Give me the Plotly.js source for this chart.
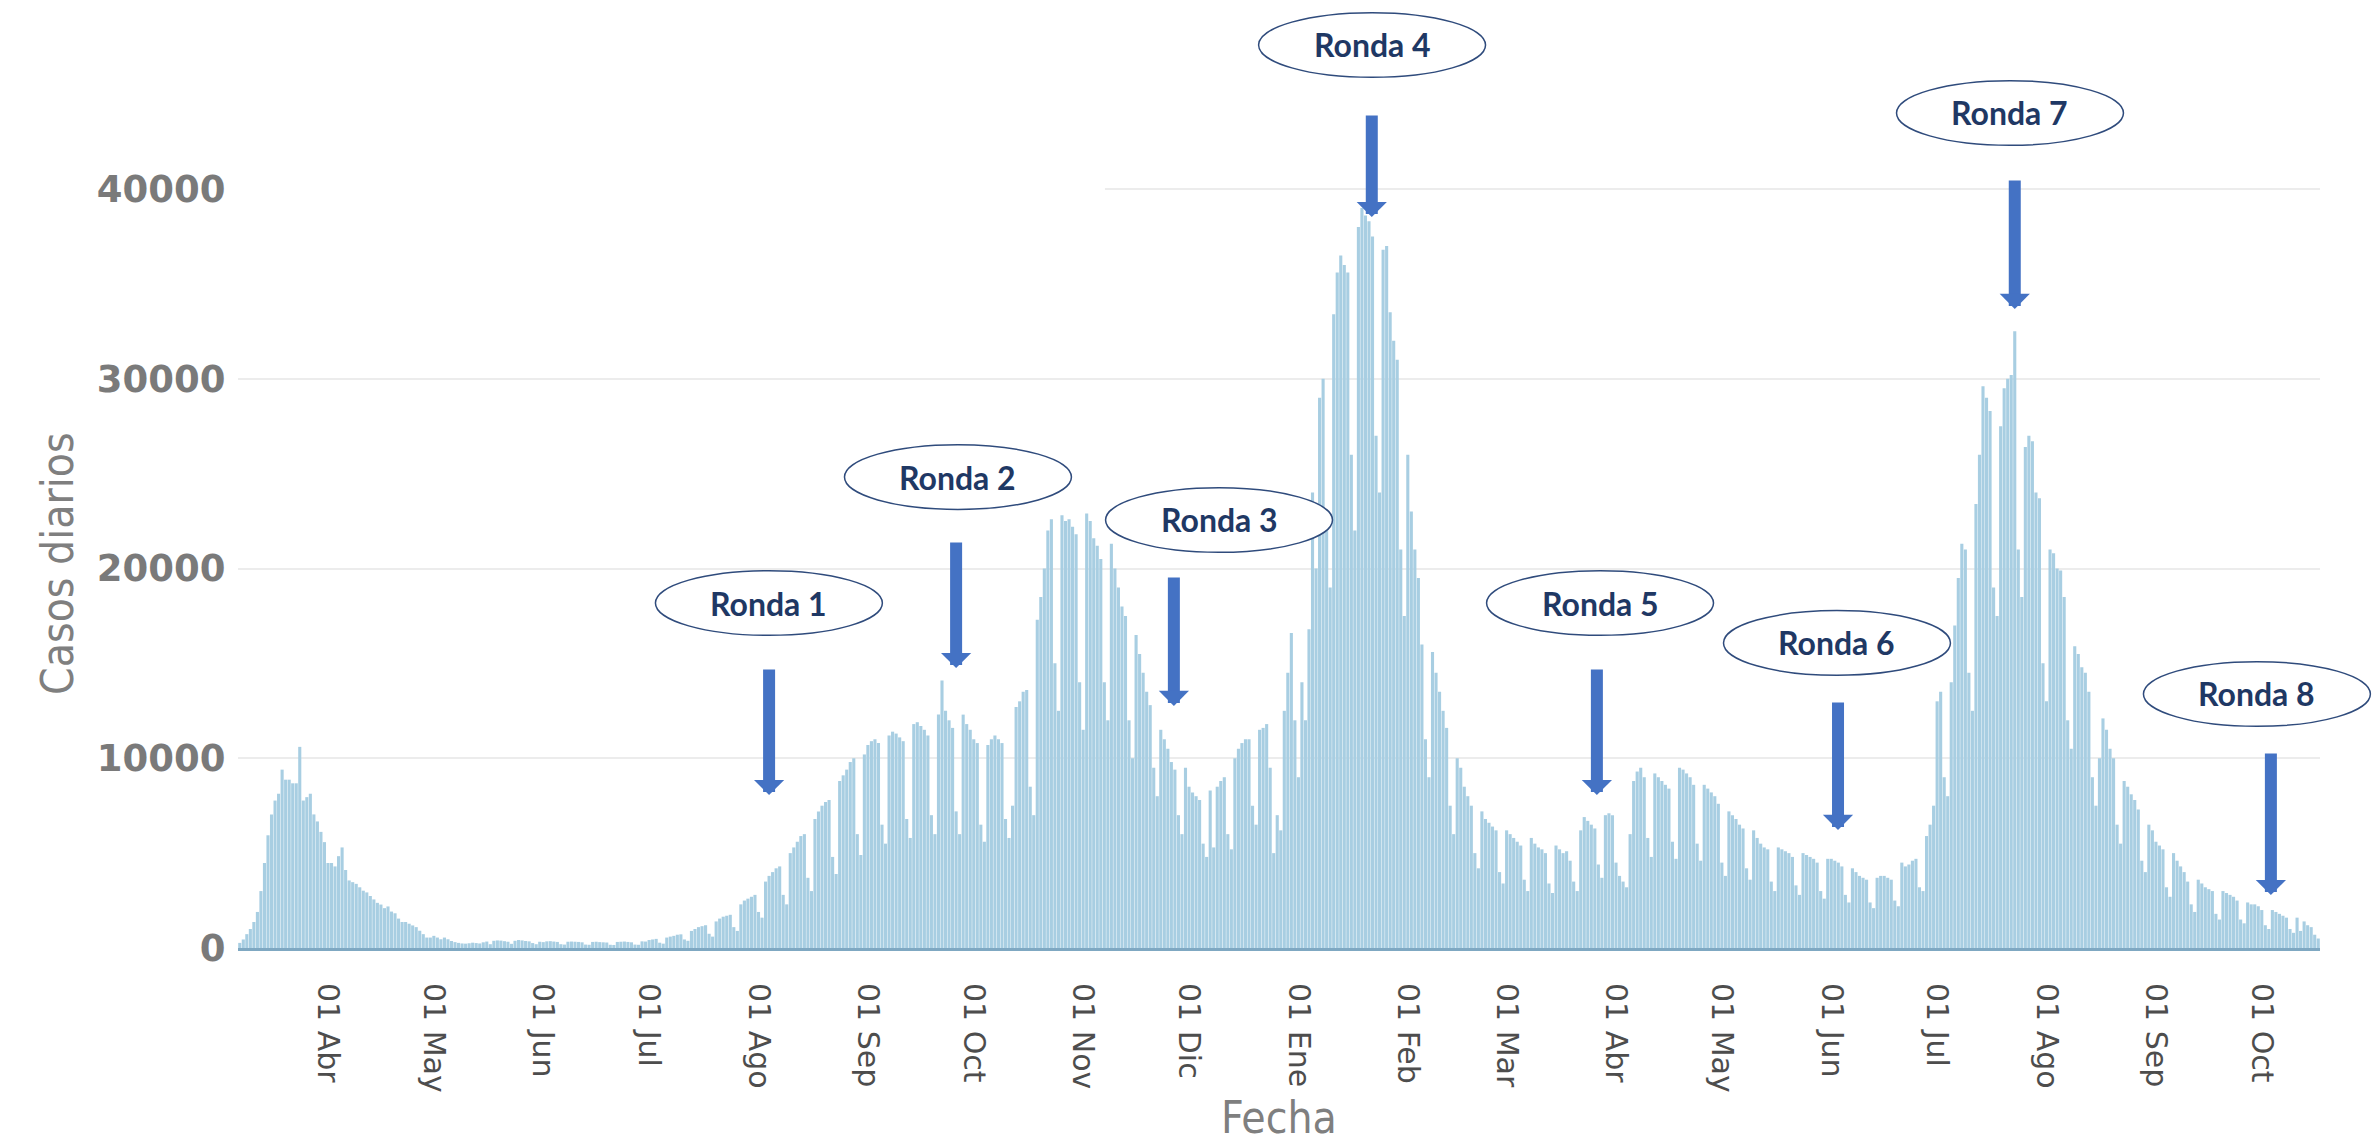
<!DOCTYPE html>
<html>
<head>
<meta charset="utf-8">
<script src="https://cdn.plot.ly/plotly-3.0.1.min.js"></script>
<style>
  html, body { margin: 0; padding: 0; background: #ffffff; }
  #chart { width: 2377px; height: 1143px; }
</style>
</head>
<body>
<div id="chart"></div>
<script>
// ---- Daily cases (Casos diarios), first bar on 2020-03-07 ----
const startDate = '2020-03-07';
const mar2020 = [270, 450, 730, 1000, 1370, 1900, 3000, 4480, 5940, 7040, 7770, 8130, 9400, 8870, 8870, 8680, 8680, 10600, 7770, 7950, 8130, 7040, 6670, 6120, 5580];
const apr2020 = [4480, 4480, 4300, 4840, 5300, 4110, 3560, 3470, 3380, 3200, 3020, 2930, 2740, 2560, 2380, 2290, 2100, 2190, 1920, 1830, 1550, 1370, 1370, 1280, 1190, 1100, 910, 730, 550, 550];
const may2020 = [640, 550, 460, 550, 460, 370, 310, 270, 240, 230, 250, 280, 260, 240, 300, 340, 200, 380, 400, 390, 360, 330, 220, 380, 420, 400, 370, 350, 260, 200, 330];
const jun2020 = [310, 350, 360, 340, 320, 200, 180, 330, 340, 330, 320, 300, 180, 170, 320, 330, 310, 300, 290, 170, 160, 320, 330, 340, 320, 300, 180, 170, 350, 340];
const jul2020 = [420, 450, 480, 280, 230, 550, 600, 640, 700, 720, 450, 380, 900, 1000, 1100, 1150, 1200, 750, 600, 1400, 1550, 1650, 1700, 1750, 1100, 900, 2300, 2500, 2600, 2700, 2800];
const aug2020 = [1900, 1600, 3500, 3800, 4000, 4200, 4300, 2800, 2300, 5000, 5300, 5600, 5900, 6000, 3700, 3000, 6800, 7200, 7500, 7700, 7800, 4800, 3900, 8800, 9100, 9400, 9800, 10000, 6000, 4900, 10200];
const sep2020 = [10700, 10900, 11000, 10800, 6500, 5500, 11200, 11400, 11300, 11100, 10900, 6800, 5800, 11800, 11900, 11700, 11500, 11200, 7000, 6000, 12300, 14100, 12500, 12000, 11600, 7200, 6000, 12300, 11800, 11500];
const oct2020 = [11000, 10800, 6500, 5600, 10700, 11000, 11200, 11000, 10800, 6800, 5800, 7500, 12700, 13000, 13500, 13600, 8500, 7000, 17300, 18500, 20000, 22000, 22600, 15000, 12500, 22800, 22500, 22600, 22200, 21800, 14000];
const nov2020 = [11500, 22900, 22500, 21600, 21200, 20500, 14000, 12000, 21300, 20000, 19000, 18000, 17500, 12000, 10000, 16500, 15500, 14500, 13500, 12800, 9500, 8000, 11500, 11000, 10500, 9800, 9400, 7000, 6000, 9500];
const dec2020 = [8500, 8200, 8000, 7800, 5500, 4800, 8300, 5300, 8500, 8800, 9000, 6000, 5200, 10000, 10500, 10800, 11000, 11000, 7500, 6500, 11500, 11600, 11800, 9500, 5000, 7000, 6200, 12500, 14500, 16600, 12000];
const jan2021 = [9000, 14000, 12000, 16800, 24000, 20000, 29000, 30000, 22000, 19000, 33400, 35600, 36500, 36000, 35600, 26000, 22000, 38000, 39000, 38600, 38300, 37500, 27000, 24000, 36800, 37000, 33500, 32000, 31000, 21000, 17500];
const feb2021 = [26000, 23000, 21000, 19500, 16000, 11000, 9000, 15600, 14500, 13500, 12500, 11600, 7500, 6000, 10000, 9500, 8500, 8000, 7500, 5000, 4200, 7200, 6800, 6600, 6400, 6200, 4000, 3400];
const mar2021 = [6200, 6000, 5800, 5600, 5400, 3600, 3000, 5800, 5500, 5300, 5200, 5000, 3400, 2900, 5400, 5200, 5000, 5100, 4600, 3500, 3000, 6200, 6900, 6700, 6500, 6300, 4400, 3700, 7000, 7100, 7000];
const apr2021 = [4500, 3800, 3500, 3200, 6000, 8800, 9300, 9500, 9000, 5800, 4800, 9200, 9000, 8800, 8600, 8400, 5600, 4700, 9500, 9400, 9200, 9000, 8600, 5500, 4600, 8600, 8400, 8200, 8000, 7600];
const may2021 = [4500, 3800, 7200, 7000, 6800, 6500, 6300, 4200, 3600, 6200, 5800, 5500, 5300, 5200, 3500, 3000, 5300, 5200, 5100, 5000, 4800, 3300, 2800, 5000, 4900, 4800, 4700, 4500, 3000, 2600, 4700];
const jun2021 = [4700, 4600, 4500, 4300, 2800, 2400, 4200, 4000, 3800, 3700, 3600, 2400, 2100, 3700, 3800, 3800, 3700, 3600, 2500, 2200, 4500, 4300, 4400, 4600, 4700, 3200, 3000, 5900, 6500, 7500];
const jul2021 = [13000, 13500, 9000, 8000, 14000, 17000, 19500, 21300, 21000, 14500, 12500, 23400, 26000, 29600, 29000, 28300, 19000, 17500, 27500, 29500, 30000, 30200, 32500, 21000, 18500, 26400, 27000, 26700, 24000, 23700, 15000];
const aug2021 = [13000, 21000, 20800, 20000, 19900, 18500, 12000, 10500, 15900, 15500, 14800, 14500, 13500, 9000, 7500, 10000, 12100, 11500, 10500, 10000, 6500, 5500, 8800, 8500, 8100, 7800, 7300, 4600, 4000, 6500, 6200];
const sep2021 = [5600, 5400, 5200, 3200, 2700, 5000, 4600, 4300, 4000, 3500, 2300, 1900, 3600, 3400, 3200, 3100, 3000, 1800, 1500, 3000, 2900, 2800, 2700, 2500, 1500, 1300, 2400, 2300, 2300, 2200];
const oct2021 = [2000, 1200, 1000, 2000, 1900, 1800, 1700, 1600, 1000, 800, 1600, 900, 1400, 1200, 1100, 700, 500];

// ---- Axis ticks ----
const tickDates = ['2020-04-01','2020-05-01','2020-06-01','2020-07-01','2020-08-01','2020-09-01','2020-10-01','2020-11-01','2020-12-01',
                   '2021-01-01','2021-02-01','2021-03-01','2021-04-01','2021-05-01','2021-06-01','2021-07-01','2021-08-01','2021-09-01','2021-10-01'];
const tickLabels = ['01 Abr','01 May','01 Jun','01 Jul','01 Ago','01 Sep','01 Oct','01 Nov','01 Dic',
                    '01 Ene','01 Feb','01 Mar','01 Abr','01 May','01 Jun','01 Jul','01 Ago','01 Sep','01 Oct'];
const yTicks = [0, 10000, 20000, 30000, 40000];
const xTitle = 'Fecha';
const yTitle = 'Casos diarios';

// ---- Rounds (Rondas): arrow target date, arrow tip value, arrow tail value ----
const rondaLabels = ['Ronda 1','Ronda 2','Ronda 3','Ronda 4','Ronda 5','Ronda 6','Ronda 7','Ronda 8'];
const rondaDates = ['2020-08-04','2020-09-26','2020-11-26 17:00','2021-01-21 19:00','2021-03-26 14:00','2021-06-02 22:00','2021-07-23','2021-10-03 14:00'];
const rondaTip = [8063, 14756, 12754, 38524, 8063, 6219, 33676, 2793];
const rondaTail = [14756, 21449, 19605, 43953, 14756, 13017, 40527, 10329];
// label bubble centres (fraction of plot area)
const rondaBubbleX = [0.2550, 0.3458, 0.4712, 0.5447, 0.6542, 0.7680, 0.8511, 0.9697];
const rondaBubbleY = [0.3678, 0.5021, 0.4563, 0.9627, 0.3678, 0.3252, 0.8902, 0.2708];

// ---- Build trace ----
const values = [].concat(mar2020, apr2020, may2020, jun2020, jul2020, aug2020, sep2020, oct2020, nov2020, dec2020,
                         jan2021, feb2021, mar2021, apr2021, may2021, jun2021, jul2021, aug2021, sep2021, oct2021);
const t0 = Date.parse(startDate + 'T00:00:00Z');
const dates = values.map((v, i) => new Date(t0 + i * 86400000).toISOString().slice(0, 10));

const trace = {
  type: 'bar',
  x: dates,
  y: values,
  marker: { color: 'rgb(168,206,226)', line: { width: 0 } },
  hoverinfo: 'x+y'
};

const titleFont = '"Liberation Sans Narrow", "Arial Narrow", "DejaVu Sans Condensed", sans-serif';
const halfW = 0.0545, halfH = 0.0345;
const shapes = [
  // hide left part of the 40000 gridline as in the original picture
  { type: 'rect', xref: 'paper', yref: 'y', x0: 0, x1: 0.4164, y0: 39500, y1: 40500,
    fillcolor: '#ffffff', line: { width: 0 }, layer: 'above' }
];
const annotations = [
  { xref: 'paper', yref: 'paper', x: -0.0865, y: 0.4094, text: yTitle, textangle: -90,
    showarrow: false, xanchor: 'center', yanchor: 'middle',
    font: { family: titleFont, size: 44, color: '#7f7f7f' } },
  { xref: 'paper', yref: 'paper', x: 0.5, y: (948 - 1117) / 938, text: xTitle,
    showarrow: false, xanchor: 'center', yanchor: 'middle',
    font: { family: titleFont, size: 44, color: '#7f7f7f' } }
];
rondaLabels.forEach((lab, i) => {
  shapes.push({
    type: 'circle', xref: 'paper', yref: 'paper',
    x0: rondaBubbleX[i] - halfW, x1: rondaBubbleX[i] + halfW,
    y0: rondaBubbleY[i] - halfH, y1: rondaBubbleY[i] + halfH,
    line: { color: '#2f4b7c', width: 1.5 }, fillcolor: '#ffffff', layer: 'above'
  });
  annotations.push({
    xref: 'paper', yref: 'paper', x: rondaBubbleX[i], y: rondaBubbleY[i],
    text: lab, showarrow: false, xanchor: 'center', yanchor: 'middle',
    font: { family: 'Lato, "Open Sans", sans-serif', size: 32, color: '#1f3864', weight: 'bold' }
  });
  annotations.push({
    xref: 'x', yref: 'y', x: rondaDates[i], y: rondaTip[i],
    axref: 'x', ayref: 'y', ax: rondaDates[i], ay: rondaTail[i],
    text: '', showarrow: true, arrowhead: 1, arrowsize: 0.42, arrowwidth: 12,
    arrowcolor: '#4472c4', standoff: 0, startstandoff: 0, font: { size: 1 }
  });
});

const layout = {
  width: 2377, height: 1143,
  margin: { l: 238, r: 57, t: 10, b: 195 },
  paper_bgcolor: '#ffffff', plot_bgcolor: '#ffffff',
  bargap: 0.12,
  showlegend: false,
  xaxis: {
    type: 'date',
    range: ['2020-03-06 12:00', '2021-10-17 12:00'],
    tickmode: 'array', tickvals: tickDates, ticktext: tickLabels,
    tickangle: 90,
    tickfont: { family: '"DejaVu Sans", Verdana, sans-serif', size: 30, color: '#4d4d4d' },
    showgrid: false, zeroline: false,
    showline: true, linecolor: '#7fa8c2', linewidth: 3,
    ticks: 'outside', ticklen: 26, tickcolor: 'rgba(0,0,0,0)',
    automargin: false
  },
  yaxis: {
    range: [0, 49433],
    tickmode: 'array', tickvals: yTicks, ticktext: yTicks.map(String),
    tickfont: { family: '"DejaVu Sans", Verdana, sans-serif', size: 37, color: '#7a7a7a', weight: 'bold' },
    showgrid: true, gridcolor: '#ececec', gridwidth: 2,
    zeroline: false, showline: false,
    ticks: 'outside', ticklen: 4, tickcolor: 'rgba(0,0,0,0)',
    automargin: false
  },
  shapes: shapes,
  annotations: annotations
};

Plotly.newPlot('chart', [trace], layout, { displayModeBar: false, staticPlot: true });
</script>
</body>
</html>
